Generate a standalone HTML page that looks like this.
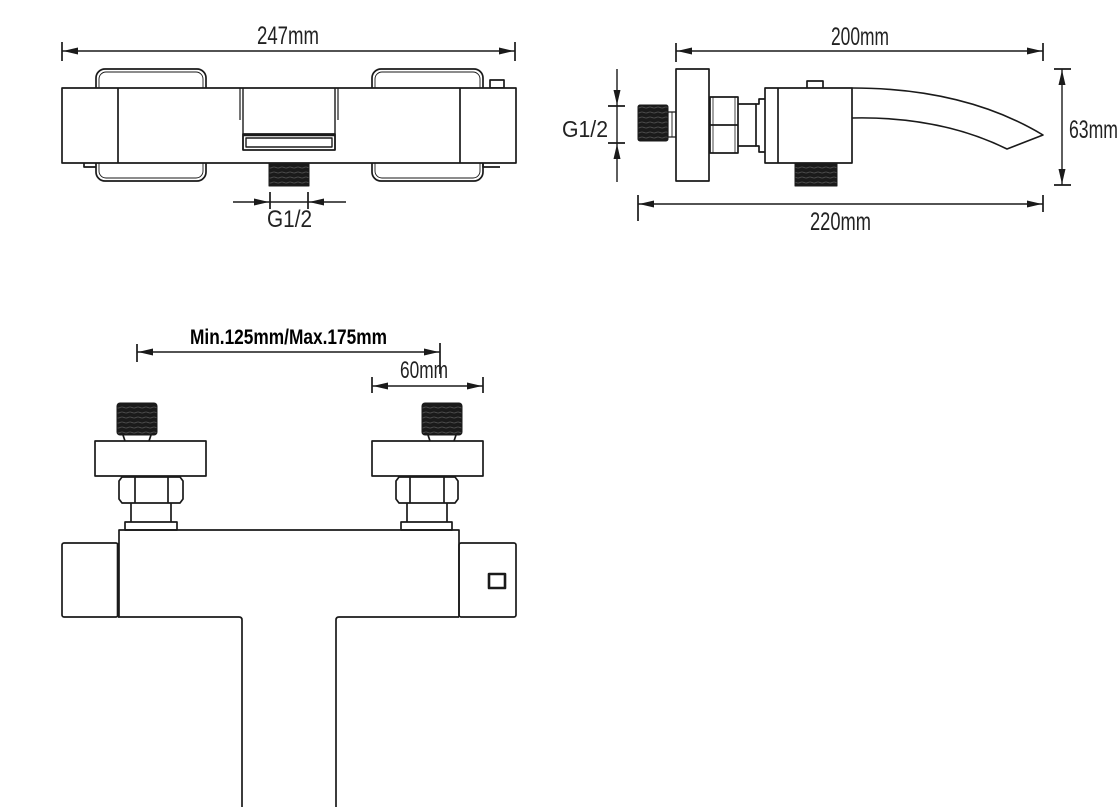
<!DOCTYPE html>
<html><head><meta charset="utf-8"><style>
html,body{margin:0;padding:0;background:#fff;}
svg{display:block;}
text{font-family:"Liberation Sans",sans-serif;fill:#222;}
</style></head><body>
<svg width="1120" height="807" viewBox="0 0 1120 807" xmlns="http://www.w3.org/2000/svg">
<defs>
<pattern id="thr" width="8" height="5" patternUnits="userSpaceOnUse">
<rect width="8" height="5" fill="#1a1a1a"/>
<path d="M0,2.5 Q2,1.5 4,2.5 T8,2.5" stroke="#555" stroke-width="0.8" fill="none"/>
</pattern>
</defs>
<g fill="none" stroke="#1a1a1a" stroke-width="1.7" stroke-linejoin="round">

<!-- ===== TOP LEFT VIEW ===== -->
<!-- 247mm dim -->
<line x1="62" y1="42" x2="62" y2="61"/>
<line x1="515" y1="42" x2="515" y2="61"/>
<line x1="62" y1="51" x2="515" y2="51" stroke-width="1.4"/>
<!-- handles -->
<rect x="96" y="69" width="110" height="112" rx="9"/>
<rect x="99" y="72" width="104" height="106" rx="7" stroke-width="0.9"/>
<rect x="372" y="69" width="111" height="112" rx="9"/>
<rect x="375" y="72" width="105" height="106" rx="7" stroke-width="0.9"/>
<!-- small tabs -->
<rect x="490" y="80" width="14" height="8" fill="#fff"/>
<path d="M84,163 V167 H96"/>
<path d="M483,163 V167 H500"/>
<!-- body -->
<rect x="62" y="88" width="454" height="75" fill="#fff"/>
<line x1="118" y1="88" x2="118" y2="163"/>
<line x1="460" y1="88" x2="460" y2="163"/>
<!-- center -->
<line x1="240" y1="88" x2="240" y2="120" stroke-width="1.2"/>
<line x1="243" y1="88" x2="243" y2="150" stroke-width="1.4"/>
<line x1="335" y1="88" x2="335" y2="150" stroke-width="1.4"/>
<line x1="338" y1="88" x2="338" y2="120" stroke-width="1.2"/>
<rect x="243" y="134" width="92" height="16"/>
<line x1="243" y1="135" x2="335" y2="135" stroke-width="2.6"/>
<rect x="246" y="138" width="86" height="9" stroke-width="1.4"/>
<!-- thread -->
<rect x="269" y="163" width="40" height="23" fill="url(#thr)" stroke="#1a1a1a" stroke-width="1"/>
<!-- G1/2 dim -->
<line x1="233" y1="202" x2="346" y2="202" stroke-width="1.4"/>
<line x1="270" y1="192" x2="270" y2="209"/>
<line x1="308" y1="192" x2="308" y2="209"/>

<!-- ===== TOP RIGHT VIEW ===== -->
<!-- 200mm dim -->
<line x1="676" y1="43" x2="676" y2="62"/>
<line x1="1043" y1="43" x2="1043" y2="61"/>
<line x1="676" y1="51" x2="1043" y2="51" stroke-width="1.4"/>
<!-- G1/2 left dim -->
<line x1="617" y1="69" x2="617" y2="182" stroke-width="1.4"/>
<line x1="608" y1="106" x2="625" y2="106"/>
<line x1="608" y1="143" x2="625" y2="143"/>
<!-- left thread -->
<rect x="638" y="105" width="30" height="36" rx="2" fill="url(#thr)" stroke-width="1"/>
<rect x="668" y="112" width="8" height="25" stroke-width="1.2"/>
<line x1="672" y1="112" x2="672" y2="137" stroke-width="0.9"/>
<!-- flange -->
<rect x="676" y="69" width="33" height="112" fill="#fff"/>
<!-- nut -->
<rect x="710" y="97" width="28" height="56"/>
<line x1="710" y1="125" x2="738" y2="125"/>
<line x1="713" y1="97" x2="713" y2="153" stroke-width="0.8"/>
<line x1="735" y1="97" x2="735" y2="153" stroke-width="0.8"/>
<!-- pipe -->
<line x1="738" y1="104" x2="756" y2="104"/>
<line x1="738" y1="146" x2="756" y2="146"/>
<!-- collar -->
<path d="M765,99 H759 V104 H756 V146 H759 V152 H765"/>
<!-- body -->
<rect x="807" y="81" width="16" height="8" fill="#fff"/>
<rect x="765" y="88" width="87" height="75" fill="#fff"/>
<line x1="778" y1="88" x2="778" y2="163"/>
<!-- bottom thread -->
<rect x="795" y="163" width="42" height="23" fill="url(#thr)" stroke-width="1"/>
<!-- spout -->
<path d="M852,88 Q965,88 1043,135 L1007,149 Q940,116 852,118" stroke-width="1.6"/>
<!-- 63mm dim -->
<line x1="1062" y1="69" x2="1062" y2="185" stroke-width="1.4"/>
<line x1="1054" y1="69" x2="1071" y2="69"/>
<line x1="1054" y1="185" x2="1071" y2="185"/>
<!-- 220mm dim -->
<line x1="638" y1="195" x2="638" y2="221"/>
<line x1="1043" y1="195" x2="1043" y2="212"/>
<line x1="638" y1="204" x2="1043" y2="204" stroke-width="1.4"/>

<!-- ===== BOTTOM VIEW ===== -->
<!-- Min/Max dim -->
<line x1="137" y1="344" x2="137" y2="362"/>
<line x1="440" y1="343" x2="440" y2="374"/>
<line x1="137" y1="352" x2="440" y2="352" stroke-width="1.4"/>
<!-- 60mm dim -->
<line x1="372" y1="377" x2="372" y2="393"/>
<line x1="483" y1="377" x2="483" y2="393"/>
<line x1="372" y1="386" x2="483" y2="386" stroke-width="1.4"/>

<!-- left connector -->
<rect x="117" y="403" width="40" height="32" rx="3" fill="url(#thr)" stroke-width="1"/>
<line x1="123" y1="435" x2="125" y2="441"/>
<line x1="151" y1="435" x2="149" y2="441"/>
<rect x="95" y="441" width="111" height="35"/>
<path d="M122,477 H180 L183,481 V499 L180,503 H122 L119,499 V481 Z"/>
<line x1="135" y1="477" x2="135" y2="503"/>
<line x1="168" y1="477" x2="168" y2="503"/>
<line x1="131" y1="503" x2="131" y2="522"/>
<line x1="171" y1="503" x2="171" y2="522"/>
<rect x="125" y="522" width="52" height="8"/>

<!-- right connector -->
<rect x="422" y="403" width="40" height="32" rx="3" fill="url(#thr)" stroke-width="1"/>
<line x1="428" y1="435" x2="430" y2="441"/>
<line x1="456" y1="435" x2="454" y2="441"/>
<rect x="372" y="441" width="111" height="35"/>
<path d="M399,477 H455 L458,481 V499 L455,503 H399 L396,499 V481 Z"/>
<line x1="410" y1="477" x2="410" y2="503"/>
<line x1="444" y1="477" x2="444" y2="503"/>
<line x1="407" y1="503" x2="407" y2="522"/>
<line x1="447" y1="503" x2="447" y2="522"/>
<rect x="401" y="522" width="51" height="8"/>

<!-- main body -->
<path d="M119,617 V530 H459 V617"/>
<rect x="62" y="543" width="56" height="74" rx="2"/>
<line x1="118" y1="543" x2="118" y2="617" stroke-width="2.6"/>
<rect x="459" y="543" width="57" height="74" rx="2"/>
<path d="M118,617 H239 Q242,617 242,620 V807"/>
<path d="M459,617 H339 Q336,617 336,620 V807"/>
<rect x="489" y="574" width="16" height="14" stroke-width="2.6"/>
</g>

<!-- arrowheads -->
<g fill="#1a1a1a" stroke="none">
<polygon points="63,51 78,47.5 78,54.5"/>
<polygon points="514,51 499,47.5 499,54.5"/>
<polygon points="269,202 254,198.5 254,205.5"/>
<polygon points="309,202 324,198.5 324,205.5"/>
<polygon points="677,51 692,47.5 692,54.5"/>
<polygon points="1042,51 1027,47.5 1027,54.5"/>
<polygon points="617,105 613.5,90 620.5,90"/>
<polygon points="617,144 613.5,159 620.5,159"/>
<polygon points="1062,70 1058.5,85 1065.5,85"/>
<polygon points="1062,184 1058.5,169 1065.5,169"/>
<polygon points="639,204 654,200.5 654,207.5"/>
<polygon points="1042,204 1027,200.5 1027,207.5"/>
<polygon points="138,352 153,348.5 153,355.5"/>
<polygon points="439,352 424,348.5 424,355.5"/>
<polygon points="373,386 388,382.5 388,389.5"/>
<polygon points="482,386 467,382.5 467,389.5"/>
</g>

<!-- text -->
<text x="257" y="44" font-size="25" textLength="62" lengthAdjust="spacingAndGlyphs">247mm</text>
<text x="267" y="227" font-size="24" textLength="45" lengthAdjust="spacingAndGlyphs">G1/2</text>
<text x="831" y="45" font-size="25" textLength="58" lengthAdjust="spacingAndGlyphs">200mm</text>
<text x="562" y="137" font-size="23" textLength="46" lengthAdjust="spacingAndGlyphs">G1/2</text>
<text x="1069" y="138" font-size="25" textLength="49" lengthAdjust="spacingAndGlyphs">63mm</text>
<text x="810" y="230" font-size="25" textLength="61" lengthAdjust="spacingAndGlyphs">220mm</text>
<text x="190" y="344" font-size="21" font-weight="bold" textLength="197" lengthAdjust="spacingAndGlyphs" style="fill:#000">Min.125mm/Max.175mm</text>
<text x="400" y="378" font-size="24" textLength="48" lengthAdjust="spacingAndGlyphs">60mm</text>
</svg>
</body></html>
